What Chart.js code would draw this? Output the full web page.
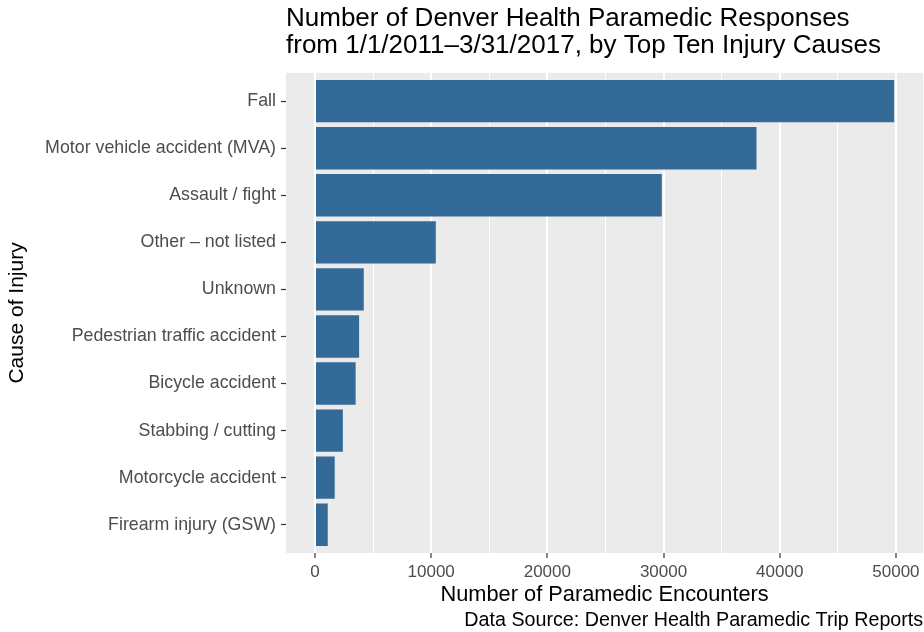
<!DOCTYPE html>
<html>
<head>
<meta charset="utf-8">
<script src="https://cdn.jsdelivr.net/npm/chart.js@4.4.0/dist/chart.umd.min.js"></script>
<style>
  body { margin: 0; background: #fff; }
  #wrap { width: 924px; height: 632px; }
</style>
</head>
<body>
<div id="wrap"><canvas id="chart" width="924" height="632"></canvas></div>
<script>
// top ten injury causes, largest first
const causes = [
  'Fall',
  'Motor vehicle accident (MVA)',
  'Assault / fight',
  'Other – not listed',
  'Unknown',
  'Pedestrian traffic accident',
  'Bicycle accident',
  'Stabbing / cutting',
  'Motorcycle accident',
  'Firearm injury (GSW)'
];
const encounters = [49850, 38000, 29850, 10400, 4200, 3800, 3500, 2400, 1700, 1100];
const xBreaks = [0, 10000, 20000, 30000, 40000, 50000];
const xMinorBreaks = [5000, 15000, 25000, 35000, 45000];

const FONT = "'Liberation Sans', Arial, sans-serif";

// grey panel behind the bars
const panelBg = {
  id: 'panelBg',
  beforeDraw(chart) {
    const { ctx, chartArea: a } = chart;
    ctx.save();
    ctx.fillStyle = '#EBEBEB';
    ctx.fillRect(a.left, a.top, a.right - a.left, a.bottom - a.top);
    ctx.restore();
  }
};

const isMajor = v => xBreaks.includes(v);

new Chart(document.getElementById('chart'), {
  type: 'bar',
  data: {
    datasets: [{
      data: encounters.map((v, i) => ({ x: v, y: i })),
      backgroundColor: '#336A98',
      borderWidth: 0,
      categoryPercentage: 1,
      barPercentage: 0.9
    }]
  },
  options: {
    indexAxis: 'y',
    responsive: false,
    animation: false,
    layout: { padding: { left: 0, right: 0, top: 0, bottom: 1.5 } },
    plugins: {
      legend: { display: false },
      tooltip: { enabled: false },
      title: {
        display: true,
        fullSize: false,
        align: 'start',
        text: ['Number of Denver Health Paramedic Responses',
               'from 1/1/2011–3/31/2017, by Top Ten Injury Causes'],
        color: '#000',
        font: { family: FONT, size: 26, weight: 'normal', lineHeight: 1.027 },
        padding: { top: 5.6, bottom: 13.9 }
      },
      subtitle: {
        display: true,
        position: 'bottom',
        fullSize: false,
        align: 'end',
        text: 'Data Source: Denver Health Paramedic Trip Reports',
        color: '#000',
        font: { family: FONT, size: 19.7, weight: 'normal', lineHeight: 1 },
        padding: { top: 0, bottom: 0 }
      }
    },
    scales: {
      x: {
        type: 'linear',
        min: -2493,
        max: 52346,
        afterBuildTicks(s) {
          s.ticks = xBreaks.concat(xMinorBreaks).sort((a, b) => a - b).map(v => ({ value: v }));
        },
        afterFit(s) { s.height = 57.8; },
        border: { display: false },
        grid: {
          color: '#FFFFFF',
          lineWidth: c => isMajor(c.tick.value) ? 2 : 1,
          tickColor: c => isMajor(c.tick.value) ? '#333333' : 'rgba(0,0,0,0)',
          tickWidth: 1.2,
          tickLength: 5
        },
        ticks: {
          autoSkip: false,
          maxRotation: 0,
          color: '#4D4D4D',
          padding: 4.4,
          font: { family: FONT, size: 17 },
          callback: v => isMajor(v) ? String(v) : ''
        },
        title: {
          display: true,
          text: 'Number of Paramedic Encounters',
          color: '#000',
          font: { family: FONT, size: 21.8, lineHeight: 1.2 },
          padding: { top: 0, bottom: 2.4 }
        }
      },
      y: {
        type: 'linear',
        reverse: true,
        offset: false,
        min: -0.6,
        max: 9.6,
        afterBuildTicks(s) {
          s.ticks = causes.map((c, i) => ({ value: i }));
        },
        afterFit(s) { s.width = 286; },
        border: { display: false },
        grid: {
          offset: false,
          drawOnChartArea: false,
          tickColor: '#333333',
          tickWidth: 1.2,
          tickLength: 5
        },
        ticks: {
          autoSkip: false,
          color: '#4D4D4D',
          padding: 5,
          font: { family: FONT, size: 17.8 },
          callback: v => causes[v]
        },
        title: {
          display: true,
          text: 'Cause of Injury',
          color: '#000',
          font: { family: FONT, size: 21, lineHeight: 1.2 },
          padding: { top: 4.8, bottom: 0 }
        }
      }
    }
  },
  plugins: [panelBg]
});
</script>
</body>
</html>
